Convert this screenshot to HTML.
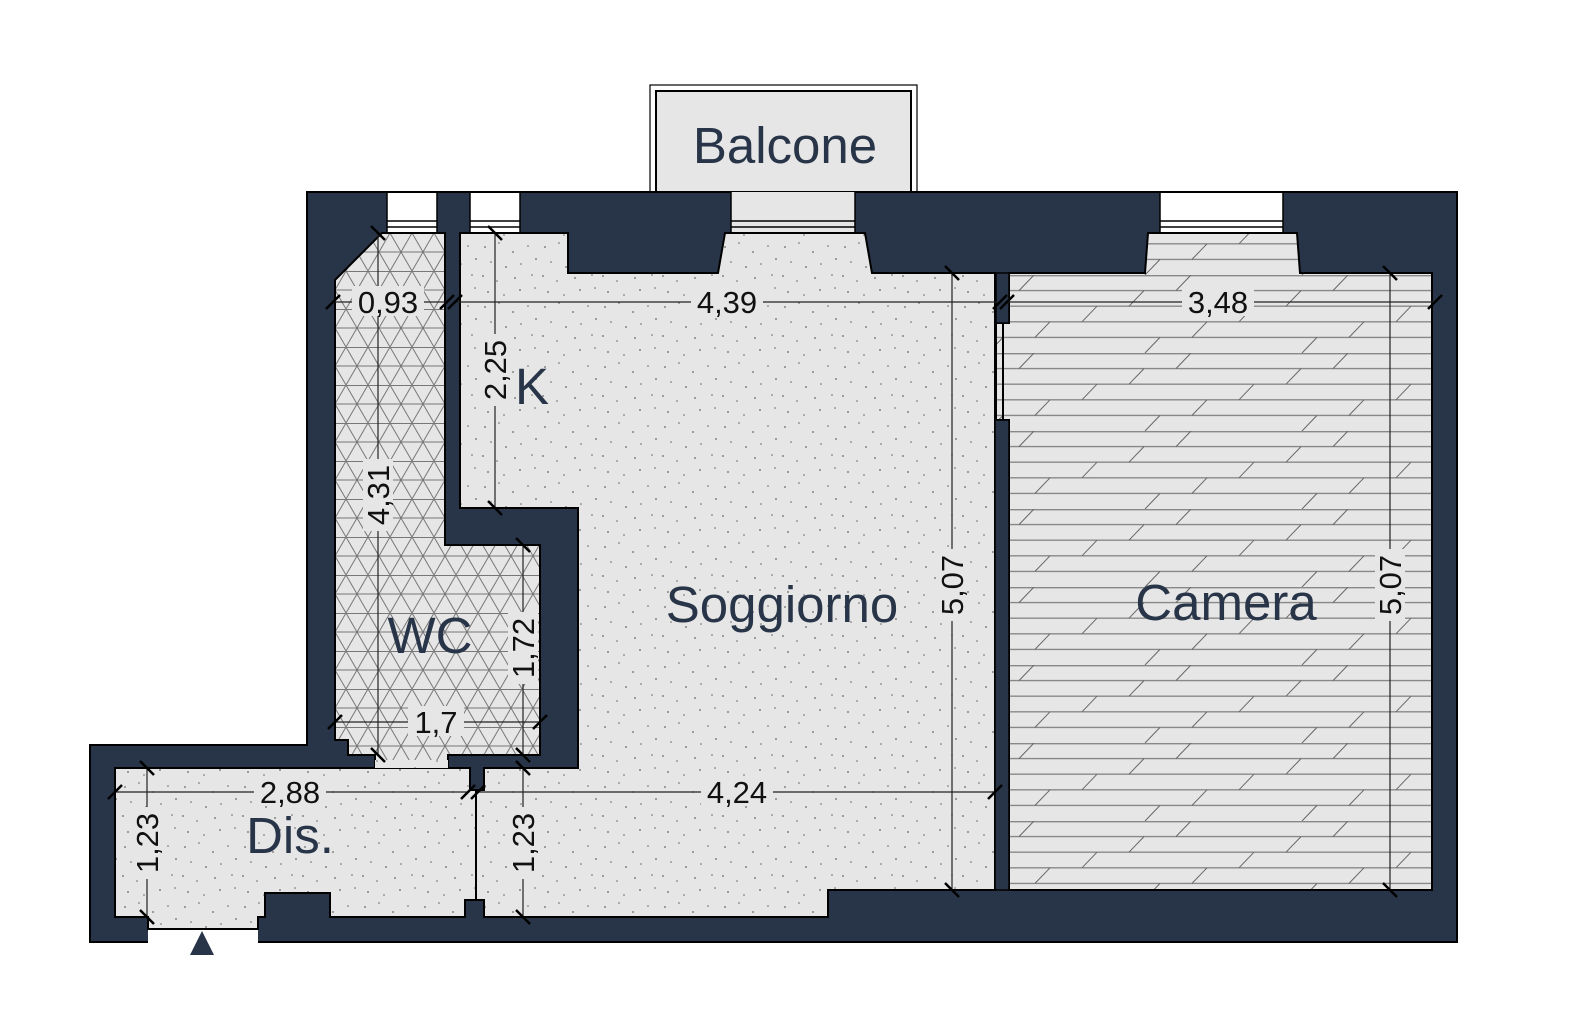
<!DOCTYPE html>
<html><head><meta charset="utf-8"><style>html,body{margin:0;padding:0;background:#fff}svg{display:block}</style></head>
<body>
<svg width="1586" height="1024" viewBox="0 0 1586 1024" xmlns="http://www.w3.org/2000/svg">
<defs>
<pattern id="dots" width="60" height="60" patternUnits="userSpaceOnUse">
<rect width="60" height="60" fill="#e6e6e6"/>
<g fill="#666">
<circle cx="5" cy="7" r=".9"/><circle cx="19" cy="3" r=".8"/><circle cx="33" cy="12" r=".9"/><circle cx="48" cy="6" r=".8"/><circle cx="56" cy="19" r=".9"/><circle cx="11" cy="22" r=".8"/><circle cx="26" cy="27" r=".9"/><circle cx="41" cy="24" r=".8"/><circle cx="3" cy="36" r=".9"/><circle cx="17" cy="41" r=".8"/><circle cx="35" cy="38" r=".9"/><circle cx="52" cy="35" r=".8"/><circle cx="8" cy="52" r=".9"/><circle cx="24" cy="55" r=".8"/><circle cx="40" cy="50" r=".9"/><circle cx="55" cy="48" r=".8"/>
</g></pattern>
<pattern id="tri" width="22" height="38" patternUnits="userSpaceOnUse" x="335" y="233">
<rect width="22" height="38" fill="#e6e6e6"/>
<g stroke="#777" stroke-width="1" fill="none">
<line x1="0" y1="0.5" x2="22" y2="0.5"/><line x1="0" y1="19" x2="22" y2="19"/>
<line x1="0" y1="19" x2="11" y2="0"/><line x1="11" y1="0" x2="22" y2="19"/>
<line x1="0" y1="19" x2="11" y2="38"/><line x1="22" y1="19" x2="11" y2="38"/>
</g></pattern>
<pattern id="plank" width="157" height="78" patternUnits="userSpaceOnUse" x="1009" y="275">
<rect width="157" height="78" fill="#e6e6e6"/>
<g stroke="#888" stroke-width="1.4"><line x1="0" y1="0.7" x2="157" y2="0.7"/><line x1="0" y1="15.6" x2="157" y2="15.6"/><line x1="0" y1="31.2" x2="157" y2="31.2"/><line x1="0" y1="46.8" x2="157" y2="46.8"/><line x1="0" y1="62.4" x2="157" y2="62.4"/></g>
<g stroke="#666" stroke-width="1"><line x1="10" y1="15.6" x2="25" y2="0"/><line x1="120" y1="31.2" x2="135" y2="15.6"/><line x1="73" y1="46.8" x2="88" y2="31.2"/><line x1="26" y1="62.4" x2="41" y2="46.8"/><line x1="136" y1="78" x2="151" y2="62.4"/></g>
</pattern>
</defs>

<rect x="650" y="85" width="267" height="120" fill="#fff" stroke="#000" stroke-width="1.2"/>
<rect x="656" y="91" width="255" height="114" fill="#e6e6e6" stroke="#000" stroke-width="2"/>

<polygon points="307,192 1457,192 1457,942 90,942 90,745 307,745" fill="#283548" stroke="#000" stroke-width="2"/>

<rect x="387" y="193" width="50" height="40" fill="#fff"/>
<g stroke="#000" stroke-width="1.5"><line x1="387" y1="221" x2="437" y2="221"/><line x1="387" y1="227" x2="437" y2="227"/><line x1="387" y1="193" x2="387" y2="233"/><line x1="437" y1="193" x2="437" y2="233"/></g>
<rect x="470" y="193" width="50" height="40" fill="#fff"/>
<g stroke="#000" stroke-width="1.5"><line x1="470" y1="221" x2="520" y2="221"/><line x1="470" y1="227" x2="520" y2="227"/><line x1="470" y1="193" x2="470" y2="233"/><line x1="520" y1="193" x2="520" y2="233"/></g>
<rect x="731" y="192" width="124" height="41" fill="#e6e6e6"/>
<g stroke="#000" stroke-width="1.5"><line x1="731" y1="221" x2="855" y2="221"/><line x1="731" y1="227" x2="855" y2="227"/><line x1="731" y1="192" x2="731" y2="233"/><line x1="855" y1="192" x2="855" y2="233"/></g>
<rect x="1160" y="193" width="123" height="40" fill="#fff"/>
<g stroke="#000" stroke-width="1.5"><line x1="1160" y1="221" x2="1283" y2="221"/><line x1="1160" y1="227" x2="1283" y2="227"/><line x1="1160" y1="193" x2="1160" y2="233"/><line x1="1283" y1="193" x2="1283" y2="233"/></g>
<rect x="148" y="929" width="110" height="14" fill="#fff"/>
<line x1="148" y1="929" x2="258" y2="929" stroke="#000" stroke-width="1.5"/>
<polygon points="190,955 214,955 202,931" fill="#283548"/>

<polygon points="382,233 445,233 445,545 540,545 540,755 448,755 448,768 375,768 375,755 348,755 348,740 335,740 335,280" fill="url(#tri)" stroke="#000" stroke-width="2"/>
<polygon points="460,233 568,233 568,273 718,273 725,233 865,233 872,273 995,273 995,890 828,890 828,917 484,917 484,900 470,900 470,790 484,790 484,768 578,768 578,508 460,508" fill="url(#dots)" stroke="#000" stroke-width="2"/>
<polygon points="115,768 375,768 448,768 470,768 470,790 476,790 476,900 465,900 465,917 330,917 330,893 265,893 265,917 258,917 258,929 148,929 148,917 115,917" fill="url(#dots)" stroke="#000" stroke-width="2"/>
<polygon points="375,768 448,768 448,760 375,760" fill="url(#dots)"/>
<line x1="476" y1="790" x2="476" y2="900" stroke="#000" stroke-width="2"/>
<polygon points="1009,273 1145,273 1148,233 1297,233 1300,273 1432,273 1432,890 1009,890 1009,420 996,420 996,323 1009,323" fill="url(#plank)" stroke="#000" stroke-width="2"/>
<rect x="996" y="273" width="13" height="50" fill="#283548" stroke="#000" stroke-width="1.5"/>
<rect x="995" y="420" width="14" height="470" fill="#283548" stroke="#000" stroke-width="1.5"/>
<line x1="1003" y1="323" x2="1003" y2="420" stroke="#000" stroke-width="2"/>

<g stroke="#222" stroke-width="1.2" fill="none">
<line x1="333" y1="302" x2="447" y2="302"/>
<line x1="455" y1="302" x2="1000" y2="302"/>
<line x1="1005" y1="302" x2="1435" y2="302"/>
<line x1="495" y1="233" x2="495" y2="508"/>
<line x1="378" y1="233" x2="378" y2="755"/>
<line x1="523" y1="545" x2="523" y2="755"/>
<line x1="335" y1="722" x2="540" y2="722"/>
<line x1="115" y1="792" x2="468" y2="792"/>
<line x1="478" y1="792" x2="995" y2="792"/>
<line x1="147" y1="768" x2="147" y2="917"/>
<line x1="523" y1="768" x2="523" y2="917"/>
<line x1="952" y1="273" x2="952" y2="890"/>
<line x1="1390" y1="273" x2="1390" y2="890"/>
</g>
<g stroke="#000" stroke-width="2.5">
<line x1="326" y1="309" x2="340" y2="295"/><line x1="440" y1="309" x2="454" y2="295"/><line x1="448" y1="309" x2="462" y2="295"/>
<line x1="993" y1="309" x2="1007" y2="295"/><line x1="1000" y1="309" x2="1014" y2="295"/><line x1="1428" y1="309" x2="1442" y2="295"/>
<line x1="488" y1="226" x2="502" y2="240"/><line x1="488" y1="501" x2="502" y2="515"/>
<line x1="371" y1="226" x2="385" y2="240"/><line x1="371" y1="748" x2="385" y2="762"/>
<line x1="516" y1="538" x2="530" y2="552"/><line x1="516" y1="748" x2="530" y2="762"/>
<line x1="328" y1="729" x2="342" y2="715"/><line x1="533" y1="729" x2="547" y2="715"/>
<line x1="108" y1="799" x2="122" y2="785"/><line x1="461" y1="799" x2="475" y2="785"/><line x1="471" y1="799" x2="485" y2="785"/><line x1="988" y1="799" x2="1002" y2="785"/>
<line x1="140" y1="761" x2="154" y2="775"/><line x1="140" y1="910" x2="154" y2="924"/>
<line x1="516" y1="761" x2="530" y2="775"/><line x1="516" y1="910" x2="530" y2="924"/>
<line x1="945" y1="266" x2="959" y2="280"/><line x1="945" y1="883" x2="959" y2="897"/>
<line x1="1383" y1="266" x2="1397" y2="280"/><line x1="1383" y1="883" x2="1397" y2="897"/>
</g>

<g font-family="Liberation Sans, sans-serif" font-size="31" fill="#111" text-anchor="middle">
<rect x="352" y="286" width="72" height="30" fill="#e6e6e6"/><text x="388" y="313">0,93</text>
<rect x="691" y="286" width="72" height="30" fill="#e6e6e6"/><text x="727" y="313">4,39</text>
<rect x="1182" y="286" width="72" height="30" fill="#e6e6e6"/><text x="1218" y="313">3,48</text>
<rect x="408" y="706" width="56" height="30" fill="#e6e6e6"/><text x="436" y="733">1,7</text>
<rect x="254" y="776" width="72" height="30" fill="#e6e6e6"/><text x="290" y="803">2,88</text>
<rect x="701" y="776" width="72" height="30" fill="#e6e6e6"/><text x="737" y="803">4,24</text>
<rect x="480" y="334" width="30" height="72" fill="#e6e6e6"/><text transform="translate(506,370) rotate(-90)">2,25</text>
<rect x="363" y="459" width="30" height="72" fill="#e6e6e6"/><text transform="translate(389,495) rotate(-90)">4,31</text>
<rect x="508" y="612" width="30" height="72" fill="#e6e6e6"/><text transform="translate(534,648) rotate(-90)">1,72</text>
<rect x="132" y="807" width="30" height="72" fill="#e6e6e6"/><text transform="translate(158,843) rotate(-90)">1,23</text>
<rect x="508" y="807" width="30" height="72" fill="#e6e6e6"/><text transform="translate(534,843) rotate(-90)">1,23</text>
<rect x="937" y="549" width="30" height="72" fill="#e6e6e6"/><text transform="translate(963,585) rotate(-90)">5,07</text>
<rect x="1375" y="549" width="30" height="72" fill="#e6e6e6"/><text transform="translate(1401,585) rotate(-90)">5,07</text>
</g>

<g font-family="Liberation Sans, sans-serif" font-size="51" fill="#283548" text-anchor="middle">
<text x="785" y="163">Balcone</text>
<text x="532" y="404">K</text>
<text x="782" y="622">Soggiorno</text>
<text x="1226" y="620">Camera</text>
<text x="430" y="653">WC</text>
<text x="290" y="853">Dis.</text>
</g>
</svg>
</body></html>
